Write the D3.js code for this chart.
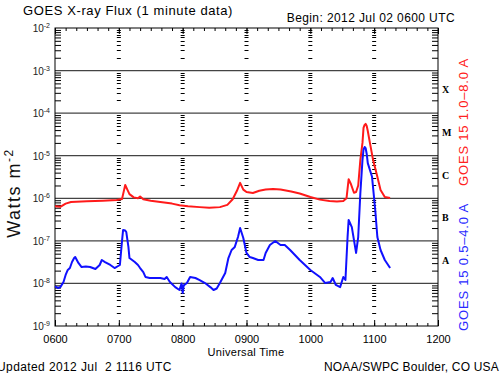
<!DOCTYPE html>
<html>
<head>
<meta charset="utf-8">
<script src="https://cdn.jsdelivr.net/npm/d3@7"></script>
<style>
  body { margin: 0; background: #fff; }
  svg { display: block; font-family: "Liberation Sans", Arial, sans-serif; }
</style>
</head>
<body>
<svg></svg>
<script>
// GOES 15 long channel (1.0-8.0 A), UT and W/m^2
const redTimes = ['06:00','06:05','06:10','06:15','06:30','06:45','06:58','07:03','07:05','07:06','07:08','07:10','07:14','07:18','07:20','07:23','07:30','07:39','07:50','07:57','08:05','08:16','08:25','08:35','08:42','08:47','08:51','08:54','08:57','09:00','09:06','09:12','09:18','09:25','09:32','09:42','09:50','10:00','10:09','10:18','10:25','10:31','10:34','10:36','10:38','10:41','10:43','10:45','10:47','10:49','10:50','10:51','10:52','10:53','10:54','10:56','10:59','11:03','11:06','11:10','11:15'];
const redFlux = [6.5e-7,6.3e-7,7.5e-7,8.2e-7,8.5e-7,8.8e-7,9.1e-7,9.6e-7,1.6e-6,2.05e-6,1.6e-6,1.25e-6,1.05e-6,1.0e-6,1.1e-6,9.5e-7,8.8e-7,8.2e-7,7.5e-7,6.9e-7,6.5e-7,6.2e-7,6.0e-7,6.2e-7,7.0e-7,9.5e-7,1.5e-6,2.3e-6,1.6e-6,1.4e-6,1.33e-6,1.5e-6,1.6e-6,1.65e-6,1.6e-6,1.45e-6,1.3e-6,1.07e-6,9.3e-7,8.6e-7,8.4e-7,8.6e-7,1.0e-6,2.8e-6,2.2e-6,1.35e-6,1.4e-6,2.0e-6,7.9e-6,2.0e-5,4.5e-5,5.3e-5,5.6e-5,5.0e-5,3.8e-5,2.0e-5,7.9e-6,3.2e-6,1.57e-6,1.07e-6,1.02e-6];

// GOES 15 short channel (0.5-4.0 A)
const blueTimes = ['06:00','06:03','06:05','06:08','06:10','06:12','06:14','06:16','06:18','06:19','06:22','06:25','06:29','06:33','06:38','06:42','06:44','06:47','06:52','06:56','07:01','07:03','07:04','07:06','07:07','07:09','07:10','07:15','07:18','07:20','07:23','07:25','07:29','07:34','07:39','07:43','07:45','07:48','07:53','07:57','07:59','08:00','08:01','08:04','08:07','08:12','08:16','08:21','08:26','08:29','08:32','08:35','08:40','08:43','08:46','08:49','08:52','08:54','08:57','09:00','09:03','09:06','09:11','09:16','09:18','09:22','09:27','09:32','09:36','09:41','09:50','10:00','10:09','10:14','10:19','10:21','10:24','10:28','10:31','10:33','10:35','10:36','10:39','10:43','10:45','10:47','10:49','10:50','10:51','10:52','10:53','10:54','10:58','11:01','11:03','11:06','11:10','11:15'];
const blueFlux = [8.5e-9,7.8e-9,8.2e-9,1.08e-8,1.58e-8,2.07e-8,2.3e-8,3.18e-8,3.95e-8,4.17e-8,3.02e-8,2.43e-8,2.5e-8,2.43e-8,2.18e-8,2.71e-8,3.55e-8,3.18e-8,2.71e-8,2.3e-8,2.71e-8,1.0e-7,1.8e-7,1.75e-7,1.61e-7,7.2e-8,3.95e-8,3.18e-8,2.71e-8,2.3e-8,1.85e-8,1.42e-8,1.34e-8,1.34e-8,1.34e-8,1.27e-8,1.42e-8,1.08e-8,8.2e-9,7.0e-9,1.0e-8,5.96e-9,9e-9,1.02e-8,1.42e-8,1.34e-8,1.2e-8,1.02e-8,8.2e-9,7.0e-9,7.6e-9,1.02e-8,1.76e-8,3.95e-8,6.1e-8,7.2e-8,1.23e-7,2.0e-7,1.17e-7,5.2e-8,4.17e-8,3.95e-8,3.55e-8,3.55e-8,5.2e-8,8.0e-8,9.9e-8,8.0e-8,8.0e-8,6.1e-8,3.55e-8,2.07e-8,1.42e-8,1.02e-8,1.08e-8,1.34e-8,9.2e-9,8.2e-9,1.42e-8,1.2e-8,1.23e-7,3.09e-7,2.1e-7,5.2e-8,1.23e-7,1.3e-6,7.9e-6,1.4e-5,1.6e-5,1.5e-5,1.1e-5,6.7e-6,3.2e-6,5.3e-7,1.23e-7,6.1e-8,3.55e-8,2.3e-8];

const decades = [1e-9,1e-8,1e-7,1e-6,1e-5,1e-4,1e-3,1e-2];
const decadeExp = ['-9','-8','-7','-6','-5','-4','-3','-2'];
const classNames = ['A','B','C','M','X'];
const classLevels = [1e-8,1e-7,1e-6,1e-5,1e-4];
const hourLabels = ['0600','0700','0800','0900','1000','1100','1200'];

const width = 500, height = 373;
const margin = {left: 55, right: 62, top: 28, bottom: 47};
const svg = d3.select('svg').attr('width', width).attr('height', height);

const parse = d3.utcParse('%Y-%m-%d %H:%M');
const t = s => parse('2012-07-02 ' + s);
const parseHour = d3.utcParse('%Y-%m-%d %H%M');
const hours = hourLabels.map(h => parseHour('2012-07-02 ' + h));

const x = d3.scaleUtc()
    .domain([hours[0], hours[hours.length-1]])
    .range([margin.left, width - margin.right]);
const y = d3.scaleLog()
    .domain([1e-9, 1e-2])
    .range([height - margin.bottom, margin.top]);

const minorY = y.ticks().filter(v => !decades.some(d => Math.abs(d - v) / d < 1e-6));
const tenMin = d3.utcMinute.every(10).range(hours[0], d3.utcMinute.offset(hours[6], 1));

// decade grid lines
svg.append('g').selectAll('line').data(decades.slice(1, -1)).join('line')
    .attr('x1', x.range()[0]).attr('x2', x.range()[1])
    .attr('y1', d => y(d)).attr('y2', d => y(d))
    .attr('stroke', '#444').attr('stroke-width', 1.3);

// short tick columns at each hour
const cols = svg.append('g');
hours.slice(1, -1).forEach(h => {
    cols.selectAll(null).data(minorY).join('line')
        .attr('x1', x(h) - 2).attr('x2', x(h) + 2)
        .attr('y1', d => Math.round(y(d)) + 0.5).attr('y2', d => Math.round(y(d)) + 0.5)
        .attr('stroke', '#000').attr('stroke-width', 1);
});

// axes (ticks drawn inward)
const axisG = svg.append('g');
const styleAxis = g => {
    g.select('.domain').remove();
    g.selectAll('line').attr('stroke', '#000');
};
axisG.append('g').attr('transform', `translate(${x.range()[0]},0)`)
    .call(d3.axisLeft(y).tickValues(minorY).tickSizeInner(-6).tickFormat(''))
    .call(styleAxis);
axisG.append('g').attr('transform', `translate(${x.range()[1]},0)`)
    .call(d3.axisRight(y).tickValues(minorY).tickSizeInner(-6).tickFormat(''))
    .call(styleAxis);
axisG.append('g').attr('transform', `translate(0,${y.range()[0]})`)
    .call(d3.axisBottom(x).tickValues(tenMin).tickSizeInner(-3).tickFormat(''))
    .call(styleAxis);
axisG.append('g').attr('transform', `translate(0,${y.range()[1]})`)
    .call(d3.axisTop(x).tickValues(tenMin).tickSizeInner(-3).tickFormat(''))
    .call(styleAxis);
axisG.append('g').attr('transform', `translate(0,${y.range()[0]})`)
    .call(d3.axisBottom(x).tickValues(hours).tickSizeInner(-6).tickPadding(9)
        .tickFormat(d3.utcFormat('%H%M')))
    .call(styleAxis)
    .call(g => g.selectAll('text').attr('font-size', 11).attr('fill', '#000')
        .attr('font-family', '"Liberation Sans", Arial, sans-serif'));
axisG.append('g').attr('transform', `translate(0,${y.range()[1]})`)
    .call(d3.axisTop(x).tickValues(hours).tickSizeInner(-6).tickFormat(''))
    .call(styleAxis);

// frame
svg.append('rect')
    .attr('x', x.range()[0]).attr('y', y.range()[1])
    .attr('width', x.range()[1] - x.range()[0])
    .attr('height', y.range()[0] - y.range()[1])
    .attr('fill', 'none').attr('stroke', '#000').attr('stroke-width', 1);

// y tick labels 10^n
const yl = svg.append('g').selectAll('text').data(decades).join('text')
    .attr('x', x.range()[0] - 5).attr('y', d => y(d) + 4)
    .attr('text-anchor', 'end').attr('font-size', 10).attr('fill', '#222');
yl.append('tspan').text('10');
yl.append('tspan').attr('dy', -4).attr('font-size', 7).text((d, i) => decadeExp[i]);
yl.each(function() {
    // keep exponent ending at the anchor
});

// flux lines
const line = d3.line().x(d => x(d[0])).y(d => y(d[1]));
svg.append('path')
    .datum(redTimes.map((s, i) => [t(s), redFlux[i]]))
    .attr('d', line).attr('fill', 'none')
    .attr('stroke', '#ff1a1a').attr('stroke-width', 2).attr('stroke-linejoin', 'round');
svg.append('path')
    .datum(blueTimes.map((s, i) => [t(s), blueFlux[i]]))
    .attr('d', line).attr('fill', 'none')
    .attr('stroke', '#1010ff').attr('stroke-width', 2).attr('stroke-linejoin', 'round');

// flare class letters
svg.append('g').selectAll('text').data(classLevels).join('text')
    .attr('x', x.range()[1] + 4)
    .attr('y', d => y(d * 3.6) + 4)
    .attr('font-family', '"Liberation Serif", "DejaVu Serif", serif')
    .attr('font-weight', 'bold').attr('font-size', 10)
    .text((d, i) => classNames[i]);

// text
const txt = (xp, yp, s, opts = {}) => svg.append('text')
    .attr('x', xp).attr('y', yp)
    .attr('font-size', opts.size || 12)
    .attr('text-anchor', opts.anchor || 'start')
    .attr('fill', opts.fill || '#000')
    .attr('letter-spacing', opts.ls || 0)
    .text(s);

txt(23, 15, 'GOES X-ray Flux (1 minute data)', {size: 13, ls: 0.6});
txt(455, 22, 'Begin: 2012 Jul 02 0600 UTC', {size: 12, anchor: 'end', ls: 0.4});
txt(246, 356, 'Universal Time', {size: 11, anchor: 'middle', ls: 0.3});
txt(-3, 371, 'Updated 2012 Jul  2 1116 UTC', {size: 12, ls: 0.4}).attr('xml:space', 'preserve')
    .style('white-space', 'pre');
txt(499, 371, 'NOAA/SWPC Boulder, CO USA', {size: 12, anchor: 'end', ls: 0.2});

const wl = svg.append('text')
    .attr('transform', 'translate(20,193) rotate(-90)')
    .attr('text-anchor', 'middle').attr('font-size', 18).attr('letter-spacing', 1.5)
    .attr('fill', '#111');
wl.append('tspan').text('Watts m');
wl.append('tspan').attr('dy', -7).attr('font-size', 12).text('-2');

svg.append('text')
    .attr('transform', 'translate(468,122) rotate(-90)')
    .attr('text-anchor', 'middle').attr('font-size', 13).attr('letter-spacing', 0.8)
    .attr('fill', '#ff2020').text('GOES 15 1.0\u20138.0 A');
svg.append('text')
    .attr('transform', 'translate(468,267) rotate(-90)')
    .attr('text-anchor', 'middle').attr('font-size', 13).attr('letter-spacing', 0.8)
    .attr('fill', '#2a2aff').text('GOES 15 0.5\u20134.0 A');
</script>
</body>
</html>
